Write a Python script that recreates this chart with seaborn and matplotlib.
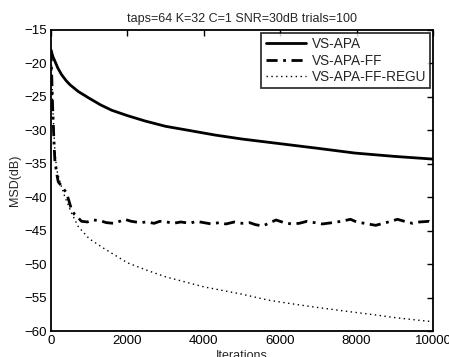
import matplotlib
matplotlib.use("Agg")
import matplotlib.pyplot as plt
import seaborn as sns
import pandas as pd

title_text = "taps=64 K=32 C=1 SNR=30dB trials=100"
series_names = ["VS-APA", "VS-APA-FF", "VS-APA-FF-REGU"]

apa_x = [0, 50, 105, 180, 280, 400, 500, 715, 1000, 1300, 1590, 2000, 2460, 3000, 3600, 4290, 5000, 6000, 7000, 7960, 9000, 10000]
apa_y = [-18, -19.0, -19.7, -20.7, -21.7, -22.6, -23.2, -24.2, -25.2, -26.2, -27.0, -27.8, -28.6, -29.4, -30.0, -30.7, -31.3, -32.0, -32.7, -33.4, -33.9, -34.3]

ff_x = [0, 20, 40, 60, 80, 100, 150, 190, 300, 410, 540, 620, 715, 800, 950,
        1100, 1280, 1450, 1630, 1800, 1930, 2100, 2330, 2500, 2700, 2850, 3030, 3200, 3400, 3640,
        3800, 4000, 4200, 4400, 4580, 4800, 5000, 5200, 5350, 5540, 5700, 5890, 6100, 6300, 6500,
        6700, 6900, 7100, 7370, 7600, 7840, 8000, 8200, 8500, 8700, 8900, 9070, 9250, 9460, 9650,
        9900, 10000]
ff_y = [-18, -22, -26, -29, -32, -34.4, -36.5, -37.7, -38.5, -39.4, -41.9, -42.6, -43.1, -43.6, -43.7,
        -43.4, -43.5, -43.8, -43.9, -43.6, -43.3, -43.6, -43.8, -43.7, -43.9, -43.6, -43.7, -43.9, -43.7, -43.9,
        -43.6, -43.8, -44.0, -43.8, -44.0, -43.7, -43.9, -43.8, -44.1, -44.3, -43.9, -43.4, -43.8, -44.0, -43.9,
        -43.6, -43.8, -44.0, -43.8, -43.6, -43.3, -43.7, -43.9, -44.2, -43.9, -43.6, -43.3, -43.6, -43.9, -43.7,
        -43.6, -43.8]

regu_x = [0, 20, 50, 100, 150, 250, 360, 540, 715, 1000, 1370, 2000, 2500, 3000, 4000, 5000, 5700, 6500, 7000, 7800, 8500, 9000, 9800, 10000]
regu_y = [-18, -22, -27, -33, -35.9, -38, -39.9, -42.4, -44.4, -46.2, -47.6, -49.8, -50.9, -51.9, -53.4, -54.5, -55.4, -56.1, -56.5, -57.1, -57.6, -58.0, -58.5, -58.6]

x_ticks = [0, 2000, 4000, 6000, 8000, 10000]
y_ticks = [-60, -55, -50, -45, -40, -35, -30, -25, -20, -15]

sns.set_style("white")
plt.rcParams['font.family'] = ['Liberation Sans', 'DejaVu Sans']

fig = plt.figure(figsize=(4.49, 3.57), dpi=100)
ax = fig.add_axes([51/449, 26/357, 382/449, 301/357])

df_apa = pd.DataFrame({"x": apa_x, "y": apa_y})
df_ff = pd.DataFrame({"x": ff_x, "y": ff_y})
df_regu = pd.DataFrame({"x": regu_x, "y": regu_y})

sns.lineplot(data=df_apa, x="x", y="y", ax=ax, color="black", linewidth=2.0,
             linestyle="-", label=series_names[0], estimator=None)
sns.lineplot(data=df_ff, x="x", y="y", ax=ax, color="black", linewidth=2.0,
             linestyle=(0, (4, 2, 1, 2)), label=series_names[1], estimator=None)
sns.lineplot(data=df_regu, x="x", y="y", ax=ax, color="black", linewidth=1.0,
             linestyle=(0, (1, 2.5)), label=series_names[2], estimator=None)

ax.set_xlim(0, 10000)
ax.set_ylim(-60, -15)
ax.set_xticks(x_ticks)
ax.set_yticks(y_ticks)
ax.tick_params(direction="in", top=True, right=True, length=4, width=1,
               labelsize=9.5, pad=3, colors="black")
for s in ax.spines.values():
    s.set_visible(True)
    s.set_color("black")
    s.set_linewidth(1.3)

ax.set_xlabel("Iterations", fontsize=9, labelpad=2)
ax.set_ylabel("MSD(dB)", fontsize=9, labelpad=2)
ax.set_title(title_text, fontsize=9, pad=6)

leg = ax.legend(loc="upper right", fontsize=9.8, frameon=True, fancybox=False,
                borderaxespad=0.2, handlelength=3.0, handletextpad=0.4,
                labelspacing=0.2, borderpad=0.3)
leg.get_frame().set_edgecolor("black")
leg.get_frame().set_linewidth(1.3)

fig.savefig("out.png", dpi=100)
